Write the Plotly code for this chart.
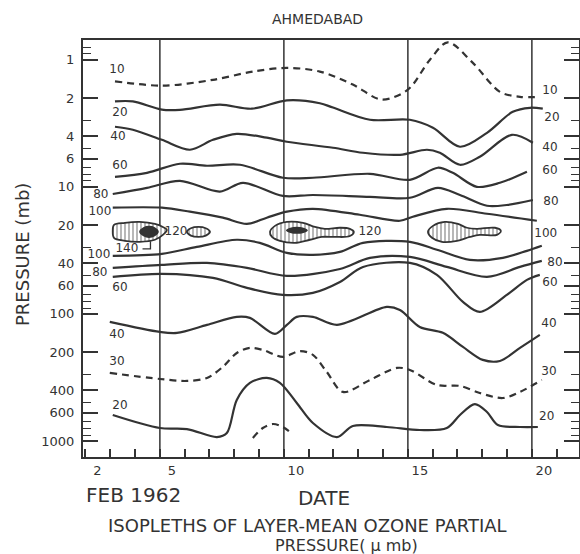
import math
import plotly.graph_objects as go

# ---------------- data (day of Feb 1962, pressure in mb) ----------------
C10_TOP_DAY = [3.19, 5.12, 7.14, 8.75, 10.12, 11.45, 12.78, 13.95, 15.0, 15.89, 16.61, 17.62, 18.71, 19.52, 20.32]
C10_TOP_P = [1.48, 1.60, 1.44, 1.24, 1.16, 1.24, 1.57, 2.06, 1.72, 1.0, 0.73, 1.06, 1.79, 1.96, 1.96]

C20_UP_DAY = [3.19, 3.91, 5.08, 5.81, 7.42, 8.71, 10.12, 11.45, 11.98, 13.47, 15.08, 16.01, 17.10, 18.19, 19.23, 19.92, 20.44]
C20_UP_P = [2.13, 2.13, 2.47, 2.48, 2.26, 2.43, 2.09, 2.20, 2.38, 2.97, 2.97, 3.43, 4.84, 3.76, 2.57, 2.39, 2.43]

C40_UP_DAY = [3.19, 3.91, 5.08, 6.21, 7.14, 8.10, 9.31, 10.12, 11.98, 13.19, 14.68, 15.77, 16.29, 17.10, 17.90, 19.19, 20.04]
C40_UP_P = [3.37, 3.56, 4.27, 5.11, 4.27, 3.83, 4.11, 4.42, 4.93, 5.40, 5.60, 5.11, 5.40, 6.71, 5.80, 3.90, 4.50]

C60_UP_DAY = [3.19, 4.48, 5.81, 6.90, 8.23, 9.96, 11.17, 13.47, 15.08, 16.21, 16.81, 17.78, 18.71, 19.80]
C60_UP_P = [8.34, 7.76, 6.59, 6.83, 6.71, 8.49, 8.49, 7.90, 8.81, 7.08, 7.76, 10.0, 9.30, 7.62]

C80_UP_DAY = [3.10, 4.48, 5.81, 7.42, 8.35, 9.96, 11.17, 13.47, 15.08, 16.21, 17.10, 18.19, 18.99, 20.04]
C80_UP_P = [11.4, 10.2, 8.97, 10.9, 9.30, 11.8, 11.6, 12.0, 12.2, 10.2, 11.6, 14.1, 13.9, 12.7]

C100_UP_DAY = [3.10, 5.08, 6.21, 7.54, 8.51, 9.31, 10.12, 11.17, 13.06, 14.68, 15.20, 16.57, 18.19, 20.20]
C100_UP_P = [14.6, 14.6, 15.7, 17.5, 19.6, 17.5, 15.7, 14.9, 16.6, 18.5, 17.2, 14.9, 16.3, 18.5]

C100_LO_DAY = [3.10, 5.08, 6.49, 8.10, 9.03, 10.12, 11.17, 12.26, 13.19, 15.08, 16.17, 17.50, 18.83, 19.80, 20.40]
C100_LO_P = [34.9, 33.7, 29.7, 26.1, 27.6, 33.1, 34.3, 32.5, 27.6, 27.1, 31.3, 37.6, 36.2, 31.9, 29.1]

C80_LO_DAY = [3.10, 5.08, 6.90, 8.51, 10.12, 12.26, 13.47, 15.08, 16.57, 18.19, 19.52, 20.40]
C80_LO_P = [43.4, 41.1, 39.7, 43.4, 50.2, 44.3, 36.2, 35.6, 42.7, 51.1, 42.7, 38.3]

C60_LO_DAY = [3.10, 5.08, 7.14, 8.51, 9.96, 11.17, 12.26, 13.19, 15.08, 16.17, 17.22, 17.90, 18.99, 19.80, 20.32]
C60_LO_P = [51.1, 48.4, 52.1, 62.4, 70.9, 68.3, 56.0, 42.7, 39.7, 49.3, 80.5, 96.5, 70.9, 54.0, 49.3]

C40_LO_DAY = [2.98, 5.0, 5.69, 6.90, 8.10, 8.63, 9.64, 10.12, 10.52, 11.17, 12.14, 14.15, 14.68, 15.48, 16.41, 17.22, 18.02, 18.71, 19.52, 20.32]
C40_LO_P = [115.6, 138.6, 141, 122, 105.6, 107.5, 143.7, 122, 105.6, 105.6, 122, 88.1, 93.1, 126.6, 141, 181.9, 230, 234.5, 185.3, 146.3]

C30_DAY = [2.98, 5.0, 6.09, 6.90, 7.54, 8.10, 8.63, 9.15, 9.96, 10.65, 11.17, 11.73, 12.38, 13.47, 14.56, 15.08, 16.17, 17.10, 17.90, 18.83, 19.52, 20.40]
C30_P = [291.5, 325, 337, 319, 261, 203, 185, 192, 218, 196, 210, 286, 411, 331, 266, 276, 362, 369, 419, 459, 411, 331]

C20_LO_DAY = [3.10, 5.0, 6.09, 7.30, 7.70, 8.10, 8.63, 9.31, 9.84, 10.52, 11.17, 12.14, 12.78, 14.15, 15.48, 16.57, 17.10, 17.70, 18.19, 18.63, 19.52, 20.24]
C20_LO_P = [624, 790, 805, 931, 866, 475, 349, 319, 349, 502, 722, 931, 762, 776, 819, 790, 624, 512, 591, 748, 776, 776]

C20_ARC_DAY = [8.75, 9.15, 9.56, 9.96, 10.24]
C20_ARC_P = [947, 790, 735, 776, 849]

# hatched 120 regions (outlines)
BLOB_A_DAY = [3.15, 3.59, 4.19, 4.80, 5.12, 5.28, 5.12, 4.80, 4.19, 3.59, 3.15, 3.10]
BLOB_A_P = [19.9, 19.2, 18.9, 19.6, 20.7, 21.8, 23.9, 26.1, 27.1, 26.6, 25.2, 22.2]
BLOB_B_DAY = [6.09, 6.25, 6.55, 6.85, 7.02, 6.85, 6.55, 6.25]
BLOB_B_P = [22.6, 21.2, 20.7, 21.2, 22.6, 24.2, 24.8, 24.2]
BLOB_C_DAY = [9.44, 9.64, 10.12, 10.77, 11.25, 11.65, 12.26, 12.66, 12.82, 12.66, 12.06, 11.53, 11.05, 10.44, 9.84, 9.52]
BLOB_C_P = [22.6, 20.3, 18.9, 19.2, 20.7, 21.4, 21.0, 21.4, 22.6, 24.4, 24.8, 24.8, 26.1, 27.6, 26.6, 24.8]
BLOB_D_DAY = [15.81, 16.01, 16.49, 17.02, 17.38, 17.78, 18.51, 18.75, 18.59, 17.90, 17.50, 16.98, 16.37, 15.97]
BLOB_D_P = [22.6, 20.3, 18.9, 19.6, 21.0, 21.4, 21.0, 22.2, 23.9, 23.9, 24.8, 26.6, 27.1, 25.2]

# 140 cores
CORE_A_DAY = [4.20, 4.35, 4.56, 4.78, 4.92, 4.78, 4.56, 4.35]
CORE_A_P = [22.6, 21.1, 20.6, 21.1, 22.6, 24.2, 24.9, 24.2]
CORE_C_DAY = [10.12, 10.3, 10.52, 10.75, 10.93, 10.75, 10.52, 10.3]
CORE_C_P = [22.0, 21.2, 21.0, 21.2, 22.0, 22.8, 23.0, 22.8]

LEADER_140_DAY = [4.30, 4.62, 4.62]
LEADER_140_P = [30.8, 30.8, 26.8]

# contour labels
LABEL_TEXT = ["10", "20", "40", "60", "80", "100", "120", "140", "100", "80", "60", "40", "30", "20", "120",
              "10", "20", "40", "60", "80", "100", "80", "60", "40", "30", "20"]
LABEL_DAY = [3.27, 3.39, 3.31, 3.39, 2.62, 2.58, 5.65, 3.67, 2.54, 2.58, 3.39, 3.27, 3.27, 3.39, 13.47,
             20.73, 20.81, 20.73, 20.73, 20.77, 20.56, 20.93, 20.73, 20.69, 20.69, 20.60]
LABEL_P = [1.20, 2.61, 4.04, 6.83, 11.6, 15.7, 22.6, 30.8, 34.3, 47.6, 62.6, 146, 239, 531, 22.6,
           1.76, 2.86, 4.93, 7.49, 13.1, 23.5, 39.7, 57.1, 120, 286, 645]

# axes
Y_TICKS = [1, 2, 4, 6, 10, 20, 40, 60, 100, 200, 400, 600, 1000]
Y_MINOR = [0.7, 0.8, 0.9, 3, 5, 7, 8, 9, 30, 50, 70, 80, 90, 300, 500, 700, 800, 900]
X_TICKS = list(range(2, 22))
X_LABELS = {2: "2", 5: "5", 10: "10", 15: "15", 20: "20"}
GRID_DAYS = [5, 10, 15, 20]

INK = "#333333"
FONT = "DejaVu Sans"

fig = go.Figure()


def add_line(days, ps, dash="solid", width=2.2):
    fig.add_trace(go.Scatter(
        x=days, y=ps, mode="lines",
        line=dict(color=INK, width=width, dash=dash, shape="spline", smoothing=0.9),
        hoverinfo="skip", showlegend=False))


def add_region(days, ps, hatched=True):
    xs = list(days) + [days[0]]
    ys = list(ps) + [ps[0]]
    kw = dict(x=xs, y=ys, mode="lines", fill="toself",
              line=dict(color=INK, width=1.8, shape="spline", smoothing=1.0),
              hoverinfo="skip", showlegend=False)
    if hatched:
        kw["fillcolor"] = "white"
        kw["fillpattern"] = dict(shape="|", fgcolor=INK, bgcolor="white", size=4, solidity=0.35)
    else:
        kw["fillcolor"] = INK
    fig.add_trace(go.Scatter(**kw))


dash_style = "7px,5px"
add_line(C10_TOP_DAY, C10_TOP_P, dash=dash_style)
add_line(C20_UP_DAY, C20_UP_P)
add_line(C40_UP_DAY, C40_UP_P)
add_line(C60_UP_DAY, C60_UP_P)
add_line(C80_UP_DAY, C80_UP_P)
add_line(C100_UP_DAY, C100_UP_P)
add_line(C100_LO_DAY, C100_LO_P)
add_line(C80_LO_DAY, C80_LO_P)
add_line(C60_LO_DAY, C60_LO_P)
add_line(C40_LO_DAY, C40_LO_P)
add_line(C30_DAY, C30_P, dash=dash_style)
add_line(C20_LO_DAY, C20_LO_P)
add_line(C20_ARC_DAY, C20_ARC_P, dash=dash_style)

add_region(BLOB_A_DAY, BLOB_A_P)
add_region(BLOB_B_DAY, BLOB_B_P)
add_region(BLOB_C_DAY, BLOB_C_P)
add_region(BLOB_D_DAY, BLOB_D_P)
add_region(CORE_A_DAY, CORE_A_P, hatched=False)
add_region(CORE_C_DAY, CORE_C_P, hatched=False)

fig.add_trace(go.Scatter(x=LEADER_140_DAY, y=LEADER_140_P, mode="lines",
                         line=dict(color=INK, width=1.3), hoverinfo="skip", showlegend=False))

fig.add_trace(go.Scatter(x=LABEL_DAY, y=LABEL_P, mode="text", text=LABEL_TEXT,
                         textfont=dict(family=FONT, size=12, color=INK),
                         hoverinfo="skip", showlegend=False))

for d in GRID_DAYS:
    fig.add_shape(type="line", x0=d, x1=d, xref="x", y0=0, y1=1, yref="paper",
                  line=dict(color=INK, width=1.5), layer="below")

# plot area in pixels: left 83, right 579, top 40, bottom 457
L, R, T, B = 83, 579, 40, 457
W, H = R - L, B - T


def px(x, y):
    return (x - L) / W, (B - y) / H


annots = [
    ("AHMEDABAD", 317, 19, 14, 0),
    ("PRESSURE (mb)", 22, 255, 18, -90),
    ("FEB 1962", 133, 495, 20, 0),
    ("DATE", 324, 498, 20, 0),
    ("ISOPLETHS OF LAYER-MEAN OZONE PARTIAL", 307, 525, 18, 0),
    ("PRESSURE( \u03bc mb)", 346, 545, 16, 0),
]
for text, ax_, ay_, size, ang in annots:
    xp, yp = px(ax_, ay_)
    fig.add_annotation(text=text, x=xp, y=yp, xref="paper", yref="paper",
                       xanchor="center", yanchor="middle", showarrow=False,
                       textangle=ang, font=dict(family=FONT, size=size, color=INK))

fig.update_layout(
    width=580, height=554,
    margin=dict(l=L, r=580 - R, t=T, b=554 - B, autoexpand=False),
    paper_bgcolor="white", plot_bgcolor="white",
    showlegend=False,
    font=dict(family=FONT, color=INK),
)

fig.update_xaxes(
    range=[1.9, 21.9], tickmode="array", tickvals=X_TICKS,
    ticktext=[X_LABELS.get(d, "") for d in X_TICKS],
    ticks="inside", ticklen=8, tickwidth=1.5, tickcolor=INK,
    showgrid=False, zeroline=False, showline=True, linecolor=INK, linewidth=2,
    mirror=True, ticklabelshift=12, automargin=False,
    tickfont=dict(family=FONT, size=13, color=INK),
)

fig.update_yaxes(
    type="log", range=[math.log10(1336), math.log10(0.7)],
    tickmode="array", tickvals=Y_TICKS, ticktext=[str(v) for v in Y_TICKS],
    ticks="inside", ticklen=15, tickwidth=1.5, tickcolor=INK,
    minor=dict(tickmode="array", tickvals=Y_MINOR, ticks="inside", ticklen=8,
               tickwidth=1.3, tickcolor=INK, showgrid=False),
    showgrid=False, zeroline=False, showline=True, linecolor=INK, linewidth=2,
    mirror="allticks", ticklabelstandoff=4, automargin=False,
    tickfont=dict(family=FONT, size=13, color=INK),
)

fig.write_html("out.html", config={"displayModeBar": False},
               post_script="document.body.style.margin='0px';")
